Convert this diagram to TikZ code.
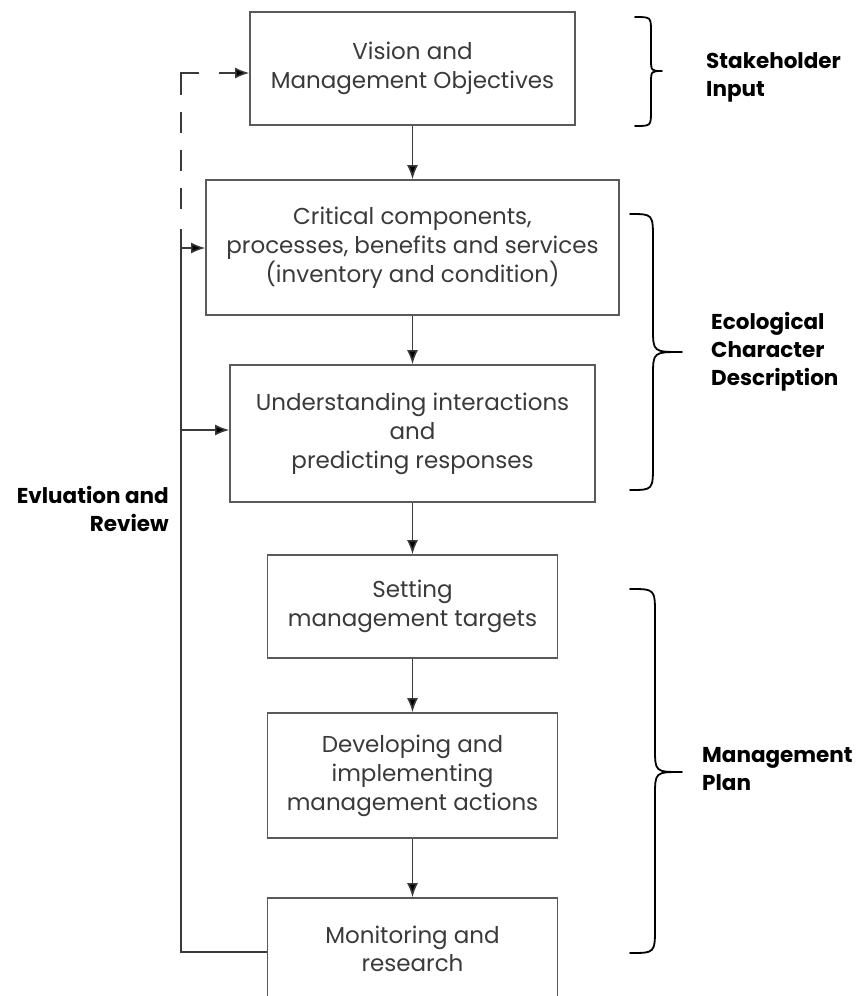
\documentclass[tikz,border=0pt]{standalone}
\usepackage{fontspec}
\setmainfont{Poppins}
\usetikzlibrary{arrows.meta}
\definecolor{boxline}{HTML}{5A5A5A}
\definecolor{boxtext}{HTML}{3A3A3A}
\definecolor{linkline}{HTML}{3A3A3A}
\begin{document}
\begin{tikzpicture}[x=1pt,y=-1pt,
  stage/.style={draw=boxline, line width=1.6pt, fill=white, inner sep=0pt,
    align=center, text=boxtext, font=\fontsize{23}{29}\selectfont},
  link/.style={draw=linkline, line width=1.5pt, -{Latex[length=14pt,width=11pt,fill=black]}},
  feedback/.style={draw=linkline, line width=1.5pt},
  bracket/.style={draw=black, line width=1.8pt, line join=round, line cap=round},
  tag/.style={font=\fontsize{21.5}{28}\selectfont\bfseries, text=black, inner sep=0pt}
]
\useasboundingbox (0,0) rectangle (865,996);

% process stages
\node[stage, minimum width=325pt, minimum height=113pt] (vision) at (412.5,68.5)
  {Vision and\\Management Objectives};
\node[stage, minimum width=413pt, minimum height=135pt] (critical) at (412.5,247.5)
  {Critical components,\\processes, benefits and services\\(inventory and condition)};
\node[stage, minimum width=365pt, minimum height=137pt] (interact) at (412.5,433.5)
  {Understanding interactions\\and\\predicting responses};
\node[stage, minimum width=290pt, minimum height=103pt] (targets) at (412.5,606.5)
  {Setting\\management targets};
\node[stage, minimum width=290pt, minimum height=125pt] (actions) at (412.5,775.5)
  {Developing and\\implementing\\management actions};
\node[stage, minimum width=290pt, minimum height=108pt] (monitor) at (412.5,952)
  {\raisebox{5pt}{\begin{tabular}{@{}c@{}}Monitoring and\\[-1pt]research\end{tabular}}};

% main sequence
\draw[link] (vision.south) -- (critical.north);
\draw[link] (critical.south) -- (interact.north);
\draw[link] (interact.south) -- (targets.north);
\draw[link] (targets.south) -- (actions.north);
\draw[link] (actions.south) -- (monitor.north);

% evaluation and review loop
\coordinate (loopbottom) at (181,952);
\coordinate (dashstart) at (181,229);
\coordinate (looptop) at (181,73);
\coordinate (dashend) at (199,73);
\coordinate (dashtip) at (219,73);
\coordinate (tapcritical) at (181,248);
\coordinate (tapinteract) at (181,430);
\draw[feedback] (monitor.west) -- (loopbottom) -- (dashstart);
\draw[feedback, dash pattern=on 40pt off 17pt on 21pt off 17pt on 21pt off 17pt on 21pt off 30pt]
  (dashend) -- (looptop) -- (dashstart);
\draw[link] (dashtip) -- (vision.west |- dashtip);
\draw[link] (tapcritical) -- (critical.west |- tapcritical);
\draw[link] (tapinteract) -- (interact.west |- tapinteract);

% braces
\draw[bracket] (635,17) .. controls (651,17) .. (651,32) -- (651,58)
  .. controls (651,71) .. (662,71) .. controls (651,71) .. (651,84) -- (651,111)
  .. controls (651,126) .. (635,126);
\draw[bracket] (630,214) .. controls (653,214) .. (653,240) -- (653,328)
  .. controls (653,352) .. (682,352) .. controls (653,352) .. (653,376) -- (653,464)
  .. controls (653,490) .. (630,490);
\draw[bracket] (630,589) .. controls (655,589) .. (655,615) -- (655,748)
  .. controls (655,772) .. (682,772) .. controls (655,772) .. (655,796) -- (655,927)
  .. controls (655,953) .. (630,953);

% group labels
\node[tag, anchor=west, align=left] (stake) at (706,77) {Stakeholder\\Input};
\node[tag, anchor=west, align=left] (eco) at (711,352) {Ecological\\Character\\Description};
\node[tag, anchor=west, align=left] (plan) at (702,769) {Management\\Plan};
\node[tag, anchor=east, align=right] (review) at (169,509) {Evluation and\\Review};
\end{tikzpicture}
\end{document}
